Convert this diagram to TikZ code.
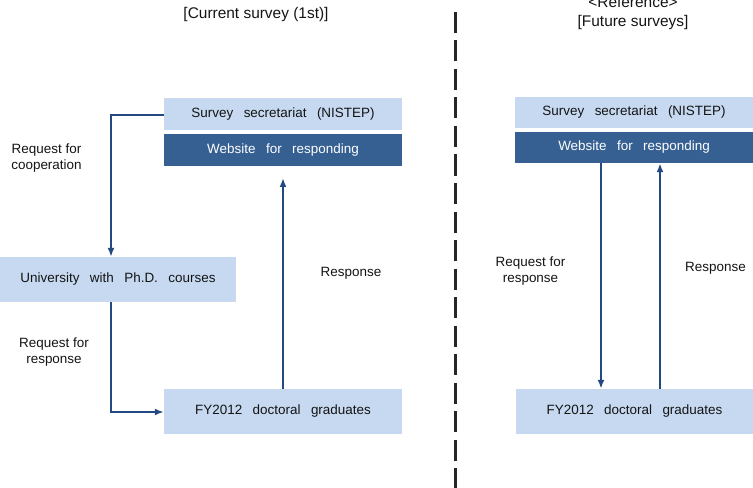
\documentclass[tikz,border=0pt]{standalone}
\usepackage{fontspec}
\setmainfont{Liberation Sans}
\newfontfamily\boxfont{Liberation Sans}[WordSpace=2.8]
\usetikzlibrary{arrows.meta}
\definecolor{lightbox}{RGB}{198,217,241}
\definecolor{darkbox}{RGB}{54,96,146}
\definecolor{arrowblue}{RGB}{35,72,130}
\definecolor{txt}{RGB}{20,20,20}
\begin{document}
\begin{tikzpicture}[x=1bp,y=-1bp,
  lbox/.style={fill=lightbox,draw=none,minimum width=238bp,inner sep=0pt,text=txt,font=\boxfont\fontsize{13.5}{16}\selectfont},
  dbox/.style={fill=darkbox,draw=none,minimum width=238bp,inner sep=0pt,text=white,font=\boxfont\fontsize{13.5}{16}\selectfont},
  lbl/.style={align=center,text=txt,inner sep=0pt,font=\fontsize{13.5}{16.5}\selectfont},
  ttl/.style={align=center,text=txt,inner sep=0pt,font=\fontsize{15.5}{19.5}\selectfont},
  flow/.style={draw=arrowblue,line width=2.2bp,-{Latex[length=9bp,width=7bp]}}
]
\useasboundingbox (0,0) rectangle (753,488);
% titles
\node[ttl] (t1) at (256,15) {[Current survey (1st)]};
\node[ttl] (t2) at (633,13) {<Reference>\\{}[Future surveys]};
% divider
\coordinate (d1) at (455,12);
\coordinate (d2) at (455,492);
\draw[line width=3bp,black!85,dash pattern=on 21bp off 7.5bp] (d1) -- (d2);
% left side
\node[lbox,minimum height=32bp] (sec1) at (283,114) {Survey secretariat (NISTEP)};
\node[dbox,minimum height=32bp] (web1) at (283,150) {Website for responding};
\node[lbox,minimum width=236bp,minimum height=45bp] (uni) at (118,279.5) {University with Ph.D. courses};
\node[lbox,minimum height=45bp] (fy1) at (283,411.5) {FY2012 doctoral graduates};
\coordinate (c1) at (111,115);
\coordinate (c2) at (111,412);
\coordinate (r1) at (283,178);
\draw[flow] (sec1.west |- c1) -- (c1) -- (c1 |- uni.north);
\draw[flow] (c1 |- uni.south) -- (c2) -- (fy1.west |- c2);
\draw[flow] (r1 |- fy1.north) -- (r1);
\node[lbl] (l1) at (46.5,158) {Request for\\cooperation};
\node[lbl] (l2) at (54,352) {Request for\\response};
\node[lbl] (l3) at (351,273) {Response};
% right side
\node[lbox,minimum height=31bp] (sec2) at (634,112.5) {Survey secretariat (NISTEP)};
\node[dbox,minimum height=31bp] (web2) at (634,147.5) {Website for responding};
\node[lbox,minimum width=237bp,minimum height=45bp] (fy2) at (634.5,411.5) {FY2012 doctoral graduates};
\coordinate (x1) at (601,0);
\coordinate (x2) at (660,0);
\draw[flow] (x1 |- web2.south) -- (x1 |- fy2.north);
\draw[flow] (x2 |- fy2.north) -- (x2 |- web2.south);
\node[lbl] (l4) at (530.5,271) {Request for\\response};
\node[lbl] (l5) at (715.5,268) {Response};
\end{tikzpicture}
\end{document}
